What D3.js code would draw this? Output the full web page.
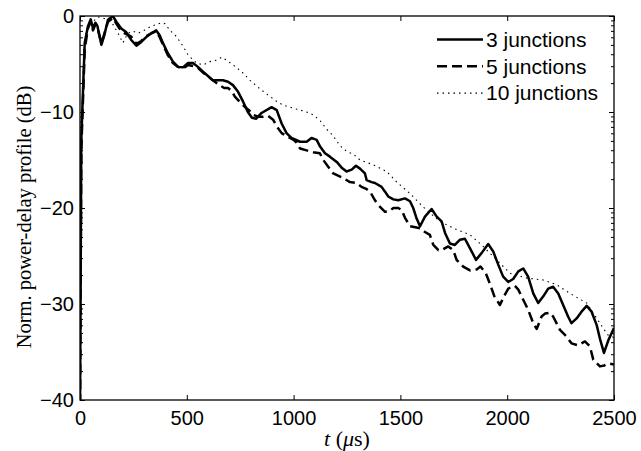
<!DOCTYPE html>
<html>
<head>
<meta charset="utf-8">
<script src="https://cdn.jsdelivr.net/npm/d3@7"></script>
<style>
  body { margin: 0; background: #fff; }
  svg { display: block; }
</style>
</head>
<body>
<div id="chart"></div>
<script>
// series: 3 junctions (solid)
const t3 = [0, 6, 22, 37, 50, 61, 72, 81, 100, 112, 131, 154, 170, 193, 217, 240, 264, 287, 310, 334, 357, 373, 389, 412, 435, 459, 482, 506, 529, 552, 576, 599, 622, 646, 669, 693, 716, 740, 763, 786, 805, 825, 850, 897, 921, 944, 967, 990, 1030, 1061, 1084, 1108, 1124, 1147, 1170, 1202, 1225, 1248, 1272, 1292, 1311, 1334, 1342, 1365, 1381, 1412, 1428, 1443, 1467, 1490, 1521, 1545, 1560, 1576, 1592, 1615, 1646, 1670, 1693, 1709, 1732, 1755, 1779, 1802, 1826, 1854, 1880, 1911, 1935, 1958, 1981, 2005, 2028, 2052, 2075, 2098, 2122, 2145, 2169, 2192, 2215, 2239, 2262, 2285, 2301, 2325, 2348, 2372, 2395, 2419, 2434, 2453, 2474, 2500];
const db3 = [-42, -12.9, -2.8, -1.1, -0.35, -1.3, -0.7, -1.0, -3.0, -2.15, -0.4, 0, -0.6, -1.3, -1.7, -2.5, -3.1, -2.7, -2.2, -1.8, -1.5, -2.0, -2.85, -3.9, -4.75, -5.3, -5.35, -4.9, -4.9, -5.3, -5.8, -6.25, -6.7, -6.7, -6.7, -6.85, -7.2, -7.9, -8.9, -10.0, -10.6, -10.7, -10.1, -9.5, -9.8, -11.2, -12.2, -12.7, -13.1, -13.1, -12.7, -12.9, -13.6, -14.3, -14.65, -15.2, -15.8, -16.2, -16.0, -15.6, -15.9, -16.4, -17.1, -17.3, -17.4, -17.8, -18.3, -18.8, -19.1, -19.2, -19.0, -19.3, -20.0, -21.1, -21.9, -20.9, -20.1, -20.9, -21.4, -22.6, -23.7, -23.85, -23.3, -23.2, -24.2, -25.4, -24.7, -23.75, -24.55, -25.9, -27.15, -27.7, -27.4, -26.6, -26.3, -27.15, -28.9, -29.9, -29.2, -28.4, -28.2, -28.9, -30.1, -31.3, -32.0, -31.5, -30.8, -30.2, -30.8, -32.2, -33.6, -35.1, -33.75, -32.5];

// series: 5 junctions (dashed)
const t5 = [0, 6, 22, 37, 50, 61, 72, 81, 100, 112, 131, 154, 170, 193, 217, 240, 264, 287, 310, 334, 357, 373, 389, 412, 435, 459, 482, 506, 530, 552, 576, 600, 622, 646, 675, 693, 710, 725, 750, 771, 795, 810, 835, 857, 880, 904, 921, 944, 967, 983, 1000, 1014, 1030, 1061, 1092, 1123, 1139, 1162, 1186, 1225, 1264, 1295, 1318, 1340, 1358, 1381, 1397, 1428, 1450, 1467, 1490, 1506, 1521, 1545, 1570, 1592, 1615, 1638, 1654, 1678, 1700, 1724, 1748, 1763, 1794, 1826, 1857, 1875, 1900, 1919, 1940, 1966, 1985, 2005, 2036, 2052, 2067, 2098, 2122, 2138, 2161, 2177, 2200, 2215, 2247, 2278, 2301, 2332, 2364, 2387, 2403, 2434, 2455, 2474, 2500];
const db5 = [-42, -14, -3.5, -1.3, -0.6, -1.5, -0.9, -1.2, -2.8, -2.0, -0.6, -0.2, -0.8, -1.6, -1.9, -2.15, -2.9, -2.6, -2.1, -1.8, -1.6, -2.2, -3.0, -4.1, -4.9, -5.3, -5.5, -5.1, -5.2, -5.4, -5.9, -6.3, -6.7, -7.1, -7.5, -7.5, -7.8, -8.4, -9.0, -9.45, -9.9, -10.3, -10.5, -10.5, -10.4, -10.8, -11.5, -12.2, -12.5, -12.7, -12.9, -13.2, -13.8, -14.0, -14.2, -14.3, -15.0, -15.7, -16.4, -16.8, -17.3, -17.4, -17.8, -18.0, -18.3, -19.2, -19.7, -20.4, -20.3, -20.0, -20.0, -20.2, -21.0, -21.9, -22.0, -22.1, -22.5, -22.8, -23.85, -24.4, -24.3, -24.0, -24.4, -25.4, -26.1, -26.5, -26.4, -26.1, -26.8, -27.9, -29.2, -30.1, -29.2, -28.4, -28.1, -28.5, -29.2, -30.6, -32.0, -32.6, -31.3, -31.0, -30.9, -31.3, -32.7, -33.4, -34.1, -34.3, -33.9, -34.4, -35.8, -36.5, -36.4, -36.2, -36.3];

// series: 10 junctions (dotted)
const t10 = [0, 8, 18, 30, 50, 84, 107, 130, 155, 178, 201, 224, 250, 271, 300, 330, 356, 380, 398, 421, 452, 484, 507, 546, 577, 608, 640, 663, 686, 717, 757, 796, 843, 890, 921, 952, 998, 1030, 1061, 1092, 1124, 1155, 1186, 1217, 1248, 1280, 1311, 1373, 1436, 1483, 1545, 1607, 1685, 1748, 1826, 1880, 1951, 2013, 2091, 2169, 2232, 2294, 2372, 2434, 2470, 2500];
const db10 = [-42, -12, -4, -1.5, -0.8, -0.1, -0.2, -0.4, -0.9, -1.8, -2.8, -1.8, -1.6, -1.8, -1.5, -1.1, -0.9, -0.7, -0.8, -1.5, -2.15, -3.2, -4.1, -4.9, -5.1, -4.75, -4.6, -4.3, -4.6, -5.1, -5.8, -6.7, -7.6, -8.4, -8.9, -9.3, -9.6, -9.8, -10.0, -10.3, -10.9, -11.8, -12.5, -13.5, -14.1, -14.4, -15.0, -15.5, -16.2, -17.3, -18.5, -19.9, -21.4, -22.1, -22.8, -23.85, -25.4, -26.8, -27.3, -27.5, -28.0, -28.9, -29.9, -32.0, -33.2, -33.5];

const seriesNames = ["3 junctions", "5 junctions", "10 junctions"];
const xTicks = [0, 500, 1000, 1500, 2000, 2500];
const yTicks = [-40, -30, -20, -10, 0];

const W = 641, H = 451;
const margin = { top: 16, right: 27, bottom: 51, left: 80 };
const width = W - margin.left - margin.right,
      height = H - margin.top - margin.bottom;

const styles = [
  { width: 2.5, dash: null },
  { width: 2.5, dash: "10,5" },
  { width: 1.1, dash: "1.5,4" }
];
const series = [
  { name: seriesNames[0], t: t3, v: db3 },
  { name: seriesNames[1], t: t5, v: db5 },
  { name: seriesNames[2], t: t10, v: db10 }
];

const svg = d3.select("#chart").append("svg")
  .attr("width", W).attr("height", H);

const g = svg.append("g")
  .attr("transform", `translate(${margin.left},${margin.top})`);

const x = d3.scaleLinear().domain([0, 2500]).range([0, width]);
const y = d3.scaleLinear().domain([-40, 0]).range([height, 0]);

g.append("defs").append("clipPath").attr("id", "clip")
  .append("rect").attr("width", width).attr("height", height);

// lines
const line = d3.line().x(d => x(d[0])).y(d => y(d[1]));
series.forEach((s, i) => {
  g.append("path")
    .datum(s.t.map((t, j) => [t, s.v[j]]))
    .attr("clip-path", "url(#clip)")
    .attr("fill", "none")
    .attr("stroke", "#000")
    .attr("stroke-width", styles[i].width)
    .attr("stroke-dasharray", styles[i].dash)
    .attr("stroke-linejoin", "round")
    .attr("d", line);
});

const fmt = d => d < 0 ? "\u2212" + Math.abs(d) : String(d);
const tickFont = "'Liberation Sans', Arial, sans-serif";

// axes with inward ticks
g.append("g").attr("transform", `translate(0,${height})`)
  .call(d3.axisBottom(x).tickValues(xTicks).tickSizeInner(-5).tickSizeOuter(0)
    .tickPadding(11).tickFormat(fmt));
g.append("g")
  .call(d3.axisTop(x).tickValues(xTicks).tickSizeInner(-5).tickSizeOuter(0).tickFormat(""));
g.append("g")
  .call(d3.axisLeft(y).tickValues(yTicks).tickSizeInner(-5).tickSizeOuter(0)
    .tickPadding(6).tickFormat(fmt));
g.append("g").attr("transform", `translate(${width},0)`)
  .call(d3.axisRight(y).tickValues(yTicks).tickSizeInner(-5).tickSizeOuter(0).tickFormat(""));

// log-style minor ticks inside each 10 dB step
const minor = [];
yTicks.slice(1).forEach(m => {
  for (let k = 2; k <= 9; k++) minor.push(m - 10 * (1 - Math.log10(k)));
});
g.append("g")
  .call(d3.axisLeft(y).tickValues(minor).tickSizeInner(-3).tickSizeOuter(0).tickFormat(""));
g.append("g").attr("transform", `translate(${width},0)`)
  .call(d3.axisRight(y).tickValues(minor).tickSizeInner(-3).tickSizeOuter(0).tickFormat(""));

g.selectAll(".domain").remove();
g.selectAll(".tick line").attr("stroke", "#000").attr("stroke-width", 1);
g.selectAll(".tick text")
  .attr("fill", "#000")
  .style("font-family", tickFont)
  .style("font-size", "20px");

// frame
g.append("rect")
  .attr("width", width).attr("height", height)
  .attr("fill", "none").attr("stroke", "#000").attr("stroke-width", 1.3);

// axis labels
svg.append("text")
  .attr("transform", `translate(31,${margin.top + height / 2 + 9}) rotate(-90)`)
  .attr("text-anchor", "middle")
  .style("font-family", "'Liberation Serif', 'Times New Roman', serif")
  .style("font-size", "20.5px")
  .text("Norm. power-delay profile (dB)");

const xl = svg.append("text")
  .attr("x", margin.left + width / 2)
  .attr("y", 446)
  .attr("text-anchor", "middle")
  .style("font-family", "'Liberation Serif', 'Times New Roman', serif")
  .style("font-size", "22px");
xl.append("tspan").style("font-style", "italic").text("t");
xl.append("tspan").text(" (");
xl.append("tspan").style("font-style", "italic").text("\u03bc");
xl.append("tspan").text("s)");

// legend
const legend = svg.append("g").attr("transform", "translate(437,39.5)");
series.forEach((s, i) => {
  const row = legend.append("g").attr("transform", `translate(0,${i * 26.8})`);
  row.append("line")
    .attr("x1", 0).attr("x2", 46).attr("y1", 0).attr("y2", 0)
    .attr("stroke", "#000")
    .attr("stroke-width", styles[i].width)
    .attr("stroke-dasharray", styles[i].dash);
  row.append("text")
    .attr("x", 49).attr("y", 0).attr("dy", "0.35em")
    .style("font-family", tickFont)
    .style("font-size", "21px")
    .text(s.name);
});
</script>
</body>
</html>
